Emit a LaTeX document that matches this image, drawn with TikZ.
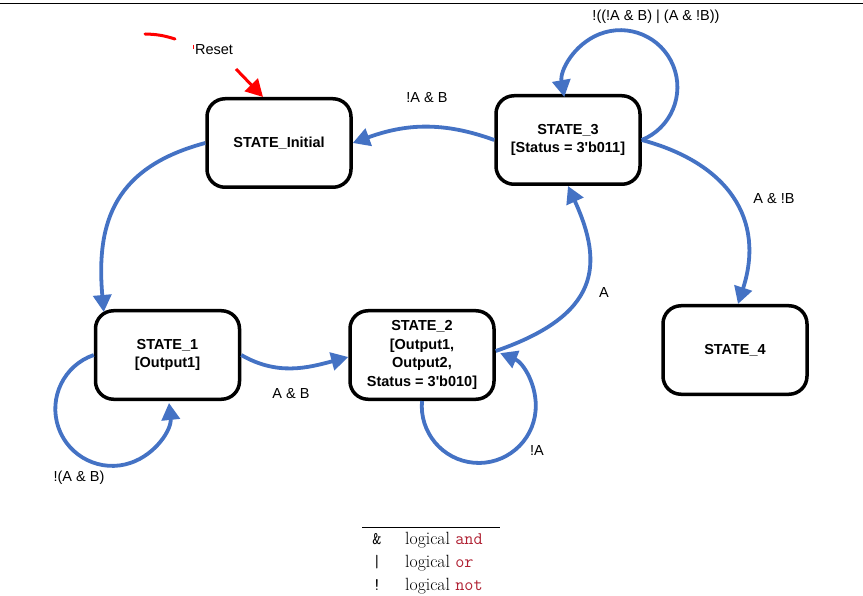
\documentclass[tikz,border=0pt]{standalone}
\usepackage{fontspec}
\usetikzlibrary{arrows.meta,positioning}
\newfontfamily\arialfont{Liberation Sans}
\definecolor{fsmblue}{HTML}{4472C4}
\definecolor{kwred}{rgb}{0.69,0.13,0.2}
\newcommand{\fsmfont}{\arialfont\fontsize{14.5}{18.7}\selectfont}
\tikzset{
  every picture/.style={
    >={Triangle[width=18pt, length=17pt]}
  },
  state/.style={
    draw, rounded corners=18pt, line width=3.5pt,
    minimum width=144pt, minimum height=88.5pt,
    align=center, inner sep=2pt,
    font=\fsmfont\bfseries
  },
  trans/.style={
    ->, draw=fsmblue, line width=3.8pt
  },
  cond/.style={
    font=\fsmfont, inner sep=0pt
  },
  reset/.style={
    red, line width=3pt
  },
  legend/.style={
    font=\fontsize{17.7}{21}\selectfont, inner sep=0pt
  }
}

\begin{document}
\begin{tikzpicture}[x=1pt, y=1pt]
  \useasboundingbox (0,0) rectangle (863,-596);
  \draw[line width=1pt] (0,-4) -- (863,-4);

  % states
  \node[state] (init) at (279,-143) {STATE\_Initial};
  \node[state] (s3) at (568,-140) {STATE\_3\\{}[Status = 3\textquotesingle b011]};
  \node[state] (s1) at (167.5,-355) {STATE\_1\\{}[Output1]};
  \node[state] (s2) at (422,-355) {STATE\_2\\{}[Output1,\\Output2,\\Status = 3\textquotesingle b010]};
  \node[state] (s4) at (735,-350) {STATE\_4};

  % reset
  \coordinate (rst0) at (145,-34);
  \coordinate (rst1) at (175,-39);
  \draw[reset, line cap=round] (rst0) to[bend left=8] (rst1);
  \node[cond] (rst) at (214,-50) {Reset};
  \draw[red, line width=1.4pt] ([xshift=-1.5pt]rst.north west) -- ++(0,-4);
  \coordinate (rst2) at (236,-69);
  \draw[reset, ->] (rst2) -- ([xshift=-16pt]init.north);

  % transitions
  \draw[trans] (init.west) to[out=195, in=95, looseness=1.2]
    ([xshift=10pt, yshift=-3pt]s1.north west);
  \draw[trans] (s1.east) to[out=-30, in=195] ([yshift=-2pt]s2.west);
  \draw[trans] ([yshift=4pt]s2.east) .. controls (600,-315) and (604,-265) .. (s3.south);
  \draw[trans] (s3.west) to[out=160, in=20] (init.east);
  \draw[trans] (s3.east) arc[start angle=-68, end angle=190, radius=57pt];
  \draw[trans] (s3.east) to[out=-15, in=72, looseness=1.2] ([xshift=3pt]s4.north);
  \draw[trans] (s1.west) arc[start angle=109, end angle=366, radius=57pt];
  \draw[trans] (s2.south) arc[start angle=175, end angle=428, radius=57pt];

  % conditions
  \node[cond] (c31) at (427,-98) {!A \& B};
  \node[cond] (c33) at (656,-17) {!((!A \& B) | (A \& !B))};
  \node[cond] (c34) at (774,-199) {A \& !B};
  \node[cond] (c23) at (604,-293) {A};
  \node[cond] (c12) at (291,-394) {A \& B};
  \node[cond] (c11) at (79,-478) {!(A \& B)};
  \node[cond] (c22) at (537,-451) {!A};

  % legend
  \draw[line width=0.8pt] (362,-527.5) -- (500,-527.5);
  \node[legend, anchor=base] (andop) at (377,-544) {\texttt{\&}};
  \node[legend, anchor=base west] (andtxt) at (405,-544) {logical \texttt{\color{kwred}and}};
  \node[legend, anchor=base] (orop) at (377,-567) {\texttt{|}};
  \node[legend, anchor=base west] (ortxt) at (405,-567) {logical \texttt{\color{kwred}or}};
  \node[legend, anchor=base] (notop) at (377,-590) {\texttt{!}};
  \node[legend, anchor=base west] (nottxt) at (405,-590) {logical \texttt{\color{kwred}not}};
\end{tikzpicture}
\end{document}
